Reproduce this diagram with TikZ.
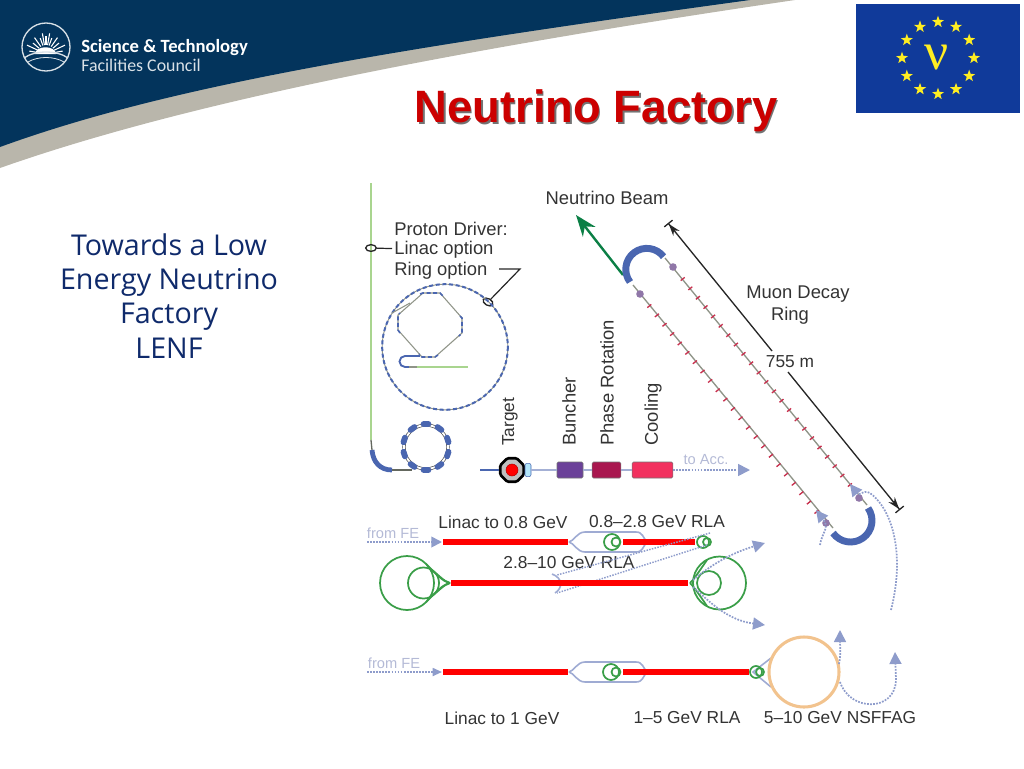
\documentclass[tikz,border=0pt]{standalone}
\usepackage{fontspec}
\usepackage{xcolor}
\setmainfont{Liberation Sans}
\newfontfamily\logofont{Carlito}
\newfontfamily\notefont{Open Sans}
\newfontfamily\nufont{Liberation Serif}
\usetikzlibrary{arrows.meta, shapes.geometric}
\definecolor{bannernavy}{HTML}{03345C}
\definecolor{bannergrey}{HTML}{B9B6AB}
\definecolor{titlered}{HTML}{CC0000}
\definecolor{flagblue}{HTML}{103A9A}
\definecolor{flagyellow}{HTML}{FFEE22}
\definecolor{notenavy}{HTML}{0F2A6B}
\definecolor{ringblue}{HTML}{4A66B0}
\definecolor{linegrey}{HTML}{8F9488}
\definecolor{paleline}{HTML}{A9D58F}
\definecolor{feedblue}{HTML}{8E9CCB}
\definecolor{palelabel}{HTML}{B4BAD6}
\definecolor{rlagreen}{HTML}{3A9E48}
\definecolor{beamgreen}{HTML}{0B7F45}
\definecolor{ffagorange}{HTML}{F2C38E}
\definecolor{magnetred}{HTML}{C8304E}
\definecolor{kickerviolet}{HTML}{9077A8}
\definecolor{buncherviolet}{HTML}{6B4199}
\definecolor{phasecrimson}{HTML}{A9174F}
\definecolor{coolingrose}{HTML}{F2315F}

\begin{document}
\begin{tikzpicture}[x=0.75pt, y=-0.75pt, >=Stealth,
    plainlabel/.style={font=\fontsize{13}{15}\selectfont, text=black!80, inner sep=1.5pt},
    biglabel/.style={font=\fontsize{13.8}{16}\selectfont, text=black!80, inner sep=1.5pt},
    palelabel/.style={font=\fontsize{11}{13}\selectfont, text=palelabel, inner sep=0pt},
    notelabel/.style={font=\notefont\fontsize{21.5}{25}\selectfont, text=notenavy, inner sep=0pt, anchor=base},
    cellbox/.style={draw=black!55, rounded corners=1pt, minimum height=12pt, inner sep=0pt},
    tapmark/.style={draw=black!85, ellipse, line width=1pt, minimum width=8pt, minimum height=5pt, inner sep=0pt},
    flagstar/.style={star, star points=5, star point ratio=2.5, fill=flagyellow, minimum size=9.5pt, inner sep=0pt},
    redbar/.style={red, line width=4.5pt},
    feedline/.style={feedblue, densely dotted, line width=1.3pt, -{Triangle[length=9pt, width=9pt]}},
    feedplain/.style={feedblue, densely dotted, line width=1.1pt},
    switchyard/.style={draw=feedblue!85, line width=1.2pt},
    rlaring/.style={draw=rlagreen, line width=1.3pt},
    straightline/.style={linegrey, line width=1pt},
    decayarc/.style={ringblue, line width=5.2pt},
    magnetmark/.style={magnetred, line width=1pt},
    dimline/.style={black!85, line width=1pt}]
\useasboundingbox (0,0) rectangle (1024,768);

\fill[bannergrey] (0,0) -- (795,0) .. controls (420,55) and (170,108) .. (0,168) -- cycle;
\fill[bannernavy] (0,0) -- (750,0) .. controls (400,48) and (170,85) .. (0,147) -- cycle;

\draw[white!85!bannernavy, line width=1pt] (46,47) circle (24);
\fill[white] (35,54) .. controls (36,45) and (55,45) .. (56,54) -- cycle;
\foreach \a/\r in {-170/17,-155/21,-140/17,-125/20,-110/17,-100/21,-90/18,-80/21,-70/17,-55/20,-40/17,-25/21,-10/17}
    \draw[white, line width=0.8pt] (46,54) ++(\a:9) -- ({46+\r*cos(\a)},{54+\r*sin(\a)});
\draw[white!85!bannernavy, line width=1pt] (24,58) .. controls (35,50) and (57,50) .. (68,58);
\draw[white!85!bannernavy, line width=0.6pt] (28,62) .. controls (38,56) and (54,56) .. (64,62);
\node[anchor=west, inner sep=0pt, text=white, font=\logofont\bfseries\fontsize{14}{16}\selectfont] (logotop) at (81,48) {Science \& Technology};
\node[anchor=west, inner sep=0pt, text=white!85!bannernavy, font=\logofont\fontsize{13.4}{15}\selectfont] (logobottom) at (81,65) {Facilities Council};

\fill[flagblue] (856,4) rectangle (1020,113);
\foreach \a [count=\i] in {0,30,...,330}
    \node[flagstar] (star\i) at ({938+36*cos(\a)},{58+36*sin(\a)}) {};
\node[text=flagyellow, inner sep=0pt, font=\nufont\fontsize{40}{42}\selectfont] (nuletter) at (937,58) {ν};

\node[inner sep=0pt, text=black!55, font=\bfseries\fontsize{34}{38}\selectfont] (titleshadow) at (597.5,112.5) {Neutrino Factory};
\node[inner sep=0pt, text=titlered, font=\bfseries\fontsize{34}{38}\selectfont] (title) at (596,111) {Neutrino Factory};

\node[notelabel] (notea) at (169,255) {Towards a Low};
\node[notelabel] (noteb) at (169,289) {Energy Neutrino};
\node[notelabel] (notec) at (169,323) {Factory};
\node[notelabel] (noted) at (169,358) {LENF};

\node[biglabel, anchor=west] (driverlabel) at (392,229) {Proton Driver:};
\node[biglabel, anchor=west] (linaclabel) at (392,250) {Linac option};
\node[biglabel, anchor=west] (ringlabel) at (392,271) {Ring option};
\coordinate (linactop) at (371,183);
\coordinate (linacend) at (371,440);
\coordinate (ringelbow) at (520,269);
\coordinate (ringstub) at (499,269);
\draw[paleline, line width=1.2pt] (linactop) -- (linacend);
\node[tapmark] (linactap) at (371,248) {};
\node[tapmark, rotate=-30] (ringtap) at (488,302) {};
\draw[black!85, line width=0.9pt] (linactap) -- (linaclabel);
\draw[black!85, line width=0.9pt] (ringstub) -- (ringelbow) -- (ringtap);

\draw[linegrey, line width=0.7pt] (445,347) circle (62.8);
\draw[ringblue, line width=1.5pt, densely dashed] (445,347) circle (62.8);
\draw[linegrey, line width=0.8pt] (423,293) -- (440,293) -- (462,318) -- (462,333) -- (435,357) -- (422,357) -- (398,330) -- (398,315) -- cycle;
\draw[linegrey, line width=0.8pt] (392,313) -- (410,303);
\draw[ringblue, line width=1.2pt, densely dashed] (420,294) -- (423,293) -- (440,293) -- (443,296);
\draw[ringblue, line width=1.2pt, densely dashed] (460,316) -- (462,318) -- (462,333) -- (459,336);
\draw[ringblue, line width=1.2pt, densely dashed] (438,355) -- (435,357) -- (422,357) -- (419,354);
\draw[ringblue, line width=1.2pt, densely dashed] (400,333) -- (398,330) -- (398,315) -- (400,313);
\draw[ringblue, line width=1.4pt] (420,356) -- (405,356) arc[start angle=-90, delta angle=-180, radius=5.5] -- (409,367);
\draw[paleline, line width=0.9pt] (417,367) -- (468,367);
\draw[linegrey, line width=0.9pt] (409,367) -- (417,367);

\draw[black!70, line width=0.5pt, double=white, double distance=1.4pt] (426,447) circle (22);
\foreach \a in {18,54,...,342}
    \draw[ringblue, line width=4.4pt, line cap=round] ({426+23*cos(\a-6)},{447+23*sin(\a-6)}) arc[start angle=\a-6, delta angle=12, radius=23];
\draw[ringblue, line width=3.6pt] (372,450) .. controls (373,462) and (380,470) .. (392,470);
\draw[linegrey!70!black, line width=1pt] (392,470) -- (412,470);
\draw[linegrey!70!black, line width=1pt] (371,440) -- (372,450);

\node[plainlabel, rotate=90, anchor=west] (targetlabel) at (510,448) {Target};
\node[biglabel, rotate=90, anchor=west] (buncherlabel) at (569,448) {Buncher};
\node[biglabel, rotate=90, anchor=west] (phaselabel) at (607,448) {Phase Rotation};
\node[biglabel, rotate=90, anchor=west] (coolinglabel) at (653,448) {Cooling};
\node[regular polygon, regular polygon sides=8, draw=black, fill=black!25, line width=2pt, rounded corners=1pt, minimum size=19pt, inner sep=0pt] (target) at (512,470) {};
\node[circle, fill=red, draw=red!70!black, minimum size=9pt, inner sep=0pt] (targetcore) at (512,470) {};
\node[draw=ringblue, fill=cyan!30!white, rounded corners=1.5pt, minimum width=4.5pt, minimum height=10pt, inner sep=0pt] (horn) at (528,470) {};
\node[cellbox, fill=buncherviolet, minimum width=19.5pt] (buncher) at (570,470) {};
\node[cellbox, fill=phasecrimson, minimum width=21.5pt] (phaserot) at (606.5,470) {};
\node[cellbox, fill=coolingrose, minimum width=30.5pt] (cooling) at (652.5,470) {};
\coordinate (beamstart) at (480,470);
\coordinate (accend) at (750,470);
\draw[ringblue, line width=1.2pt] (beamstart) -- (target);
\draw[feedblue!80, line width=1.1pt] (horn) -- (buncher);
\draw[feedblue!80, line width=1.1pt] (buncher) -- (phaserot);
\draw[feedblue!80, line width=1.1pt] (phaserot) -- (cooling);
\draw[feedline] (cooling) -- (accend);
\node[palelabel] (acclabel) at (706,460) {to Acc.};

\node[biglabel] (beamlabel) at (607,198) {Neutrino Beam};
\coordinate (beamorigin) at (623,275);
\coordinate (beamtip) at (576,215);
\draw[beamgreen, line width=1.8pt, -{Stealth[length=16pt, width=12pt]}] (beamorigin) -- (beamtip);

\coordinate (lowerstart) at (633,285);
\coordinate (lowerend) at (833,528);
\coordinate (upperstart) at (665,258);
\coordinate (upperend) at (867,505);
\draw[straightline] (lowerstart) -- (lowerend);
\draw[straightline] (upperstart) -- (upperend);
\foreach \i in {0,...,22} {
    \draw[magnetmark] (682.7+7.6*\i,279+9.36*\i) ++(-2,1.6) -- ++(4,-3.2);
    \draw[magnetmark] (649.3+7.6*\i,306+9.36*\i) ++(-2,1.6) -- ++(4,-3.2);
}
\foreach \x/\y in {673/267,640/294,859/498,826/523}
    \fill[kickerviolet] (\x,\y) circle (3.8);
\draw[decayarc] (630,282) arc[start angle=143, delta angle=180, radius=21];
\draw[decayarc] (833,533) arc[start angle=144.5, delta angle=-180, radius=21.5];
\node[biglabel] (muonlabel) at (798,294) {Muon Decay};
\node[biglabel] (ringtext) at (790,316) {Ring};
\node[plainlabel] (lengthlabel) at (790,362) {755 m};
\coordinate (lengthtop) at (668,223);
\coordinate (lengthbottom) at (900,510);
\coordinate (breaktop) at (772,351);
\coordinate (breakbottom) at (788,372);
\draw[dimline, -{Stealth[length=9pt, width=6pt]Bar[width=8pt]}] (breakbottom) -- (lengthbottom);
\draw[dimline, -{Stealth[length=9pt, width=6pt]Bar[width=8pt]}] (breaktop) -- (lengthtop);
\draw[feedline] (820,545) .. controls (822,532) and (830,528) .. (816,510);
\draw[feedline] (891,610) .. controls (905,555) and (893,510) .. (870,493) .. controls (862,489) and (860,497) .. (850,484);

\node[palelabel] (fronta) at (393,533) {from FE};
\node[plainlabel] (linacalabel) at (503,522) {Linac to 0.8 GeV};
\node[plainlabel] (rlaalabel) at (657,522) {0.8--2.8 GeV RLA};
\node[plainlabel] (rlablabel) at (569,563) {2.8--10 GeV RLA};
\coordinate (feedastart) at (367,542);
\coordinate (feedaend) at (442,542);
\draw[feedline, -{Triangle[length=8pt, width=8pt]}] (feedastart) -- (feedaend);
\coordinate (linacastart) at (443,542);
\coordinate (linacaend) at (568,542);
\coordinate (rlaastart) at (623,542);
\coordinate (rlaaend) at (695,542);
\draw[switchyard] (569,542) .. controls (574,541) and (577,532) .. (585,532) -- (636,532) .. controls (643,532) and (643,538) .. (647,542) .. controls (643,546) and (643,552) .. (636,552) -- (585,552) .. controls (577,552) and (574,543) .. (569,542);
\draw[redbar] (linacastart) -- (linacaend);
\draw[redbar] (rlaastart) -- (rlaaend);
\draw[rlaring] (612,542) circle (8);
\draw[rlaring] (616,542) circle (4.5);
\draw[rlaring] (703,542) circle (6);
\draw[rlaring] (707,542) circle (4);
\draw[feedplain] (710,533) -- (557,575);
\draw[feedplain] (707,545) -- (557,593);
\draw[switchyard] (552,574) .. controls (563,578) and (563,588) .. (555,593);

\coordinate (linacbstart) at (451,583);
\coordinate (linacbend) at (688,583);
\draw[rlaring] (407,583) circle (27);
\draw[rlaring] (423.5,583) circle (15.5);
\draw[rlaring] (450,583) .. controls (441,581) and (436,573) .. (426,564);
\draw[rlaring] (450,583) .. controls (441,585) and (436,593) .. (426,602);
\draw[rlaring] (450,583) .. controls (443,581) and (438,574) .. (431,569.5);
\draw[rlaring] (450,583) .. controls (443,585) and (438,592) .. (431,596.5);
\draw[rlaring] (719.5,583) circle (26.5);
\draw[rlaring] (709,583) circle (12);
\draw[rlaring] (690,583) .. controls (695,578) and (700,570) .. (707,560);
\draw[rlaring] (690,583) .. controls (695,588) and (700,596) .. (707,606);
\draw[redbar] (linacbstart) -- (linacbend);
\draw[feedline] (693,580) .. controls (705,570) and (725,555) .. (765,543);
\draw[feedline] (693,587) .. controls (705,597) and (725,620) .. (765,625);

\node[palelabel] (frontb) at (394,663) {from FE};
\node[plainlabel] (linacclabel) at (502,718) {Linac to 1 GeV};
\node[plainlabel] (rlaclabel) at (687,718) {1--5 GeV RLA};
\node[plainlabel] (ffaglabel) at (840,718) {5--10 GeV NSFFAG};
\coordinate (feedbstart) at (367,672);
\coordinate (feedbend) at (442,672);
\draw[feedline, -{Triangle[length=7pt, width=6pt]}] (feedbstart) -- (feedbend);
\coordinate (linaccstart) at (443,672);
\coordinate (linaccend) at (568,672);
\coordinate (rlacstart) at (623,672);
\coordinate (rlacend) at (749,672);
\draw[switchyard] (569,672) .. controls (574,671) and (577,662) .. (585,662) -- (636,662) .. controls (643,662) and (643,668) .. (647,672) .. controls (643,676) and (643,682) .. (636,682) -- (585,682) .. controls (577,682) and (574,673) .. (569,672);
\draw[redbar] (linaccstart) -- (linaccend);
\draw[redbar] (rlacstart) -- (rlacend);
\draw[rlaring] (611,672) circle (8);
\draw[rlaring] (616,672) circle (4.5);
\draw[switchyard] (771,658) -- (753,672) -- (771,687);
\draw[rlaring] (756,672) circle (6);
\draw[rlaring] (760,672) circle (4);
\draw[ffagorange, line width=2.3pt] (804,672) circle (35);
\draw[feedline] (839,664) .. controls (841,655) and (840,645) .. (840,630);
\draw[feedline] (840,682) .. controls (850,712) and (895,712) .. (896,680) -- (895,652);

\end{tikzpicture}
\end{document}
